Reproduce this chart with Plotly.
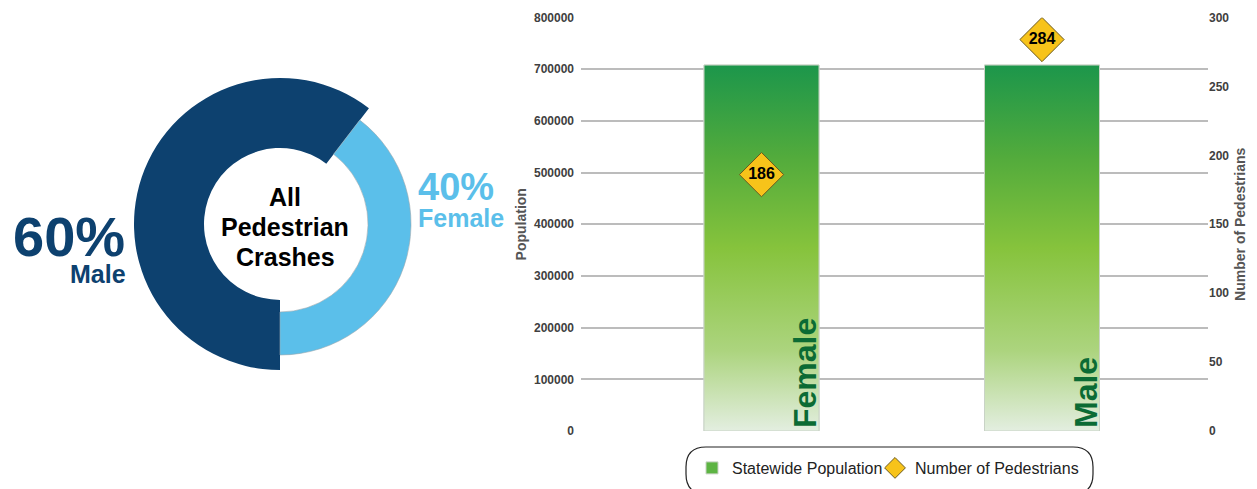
import plotly.graph_objects as go

W, H = 1257, 489
OFF = 8  # page offset of the figure inside the html body

# ---- data ----
categories = ["Female", "Male"]
population = [708000, 708000]          # Statewide Population
pedestrians = [186, 284]               # Number of Pedestrians
pct_labels = ["40%", "60%"]
center_lines = ["All", "Pedestrian", "Crashes"]
pop_ticks = [0, 100000, 200000, 300000, 400000, 500000, 600000, 700000, 800000]
ped_ticks = [0, 50, 100, 150, 200, 250, 300]

DARK = "#0d416f"
LIGHT = "#5bbfea"
FONT = "Arial, Liberation Sans, sans-serif"


def px(x):
    return (x - OFF) / W


def py(y):
    return 1 - (y - OFF) / H


fig = go.Figure()

# ---- donut (two rings with different radii) ----
cx, cy = 280, 224
R_big, R_small = 146, 131
fig.add_trace(go.Pie(
    values=[pedestrians[1], pedestrians[0]], labels=[categories[1], categories[0]],
    sort=False, direction="clockwise", rotation=180, hole=76 / 146,
    marker=dict(colors=[DARK, "rgba(0,0,0,0)"], line=dict(width=0)),
    textinfo="none", showlegend=False, hoverinfo="label+value+percent",
    domain=dict(x=[px(cx - R_big), px(cx + R_big)], y=[py(cy + R_big), py(cy - R_big)]),
))
fig.add_trace(go.Pie(
    values=[pedestrians[1], pedestrians[0]], labels=[categories[1], categories[0]],
    sort=False, direction="clockwise", rotation=180, hole=88 / 131,
    marker=dict(colors=["rgba(0,0,0,0)", LIGHT],
                line=dict(color=["rgba(0,0,0,0)", "#9aa7ae"], width=[0, 0.6])),
    textinfo="none", showlegend=False, hoverinfo="skip",
    domain=dict(x=[px(cx - R_small), px(cx + R_small)], y=[py(cy + R_small), py(cy - R_small)]),
))

# ---- population bars (solid base for legend) + vertical gradient overlay ----
bar_w = 0.41
positions = list(range(len(categories)))
fig.add_trace(go.Bar(
    x=positions, y=population, width=bar_w, name="Statewide Population",
    marker=dict(color="#5db443", line=dict(color="#c9d3c6", width=1)),
    xaxis="x", yaxis="y", hovertext=categories, legend="legend",
))
xs, ys = [], []
for i, v in zip(positions, population):
    xs += [i - bar_w / 2, i - bar_w / 2, i + bar_w / 2, i + bar_w / 2, i - bar_w / 2, None]
    ys += [0, v, v, 0, 0, None]
fig.add_trace(go.Scatter(
    x=xs, y=ys, fill="toself", mode="lines",
    line=dict(color="#c9d3c6", width=1),
    fillgradient=dict(type="vertical", colorscale=[
        [0, "#e3eee0"], [0.22, "#acd47e"], [0.5, "#86c33c"], [0.75, "#52ab3c"], [1, "#1c964b"]]),
    showlegend=False, hoverinfo="skip", xaxis="x", yaxis="y",
))

# ---- pedestrian diamonds ----
fig.add_trace(go.Scatter(
    x=positions, y=pedestrians, mode="markers",
    marker=dict(symbol="diamond", size=34, color="#f7c31a", line=dict(color="#6b5a20", width=1)),
    name="Number of Pedestrians", xaxis="x", yaxis="y2", legend="legend2",
))
fig.add_trace(go.Scatter(
    x=positions, y=pedestrians, mode="text",
    text=[str(v) for v in pedestrians], textposition="middle center",
    textfont=dict(family=FONT, size=16, color="#000000", weight="bold"),
    showlegend=False, hoverinfo="skip", xaxis="x", yaxis="y2",
))

annotations = []
# bar category labels
for i, c in zip(positions, categories):
    annotations.append(dict(
        x=i + 0.155, y=0, xref="x", yref="y", text=f"<b>{c}</b>", showarrow=False,
        textangle=-90, xanchor="center", yanchor="bottom", yshift=1,
        font=dict(family=FONT, size=32, color="#0b6b34"),
    ))
# donut center text
for txt, yy in zip(center_lines, [197, 227, 257]):
    annotations.append(dict(
        x=px(285), y=py(yy), xref="paper", yref="paper", text=f"<b>{txt}</b>", showarrow=False,
        xanchor="center", yanchor="middle", font=dict(family=FONT, size=25, color="#000000"),
    ))
# percentage labels
annotations += [
    dict(x=px(127), y=py(236), xref="paper", yref="paper", text=f"<b>{pct_labels[1]}</b>",
         showarrow=False, xanchor="right", yanchor="middle",
         font=dict(family=FONT, size=56, color=DARK)),
    dict(x=px(128), y=py(274), xref="paper", yref="paper", text=f"<b>{categories[1]}</b>",
         showarrow=False, xanchor="right", yanchor="middle",
         font=dict(family=FONT, size=25, color=DARK)),
    dict(x=px(416), y=py(187), xref="paper", yref="paper", text=f"<b>{pct_labels[0]}</b>",
         showarrow=False, xanchor="left", yanchor="middle",
         font=dict(family=FONT, size=38, color=LIGHT)),
    dict(x=px(416), y=py(218), xref="paper", yref="paper", text=f"<b>{categories[0]}</b>",
         showarrow=False, xanchor="left", yanchor="middle",
         font=dict(family=FONT, size=25, color=LIGHT)),
]

# rounded legend frame
x0, x1, y0, y1, r = 686, 1093, 447, 494, 20
rx, ry = r / W, r / H
X0, X1, Y0, Y1 = px(x0), px(x1), py(y0), py(y1)
path = (f"M {X0+rx},{Y0} L {X1-rx},{Y0} Q {X1},{Y0} {X1},{Y0-ry} L {X1},{Y1+ry} "
        f"Q {X1},{Y1} {X1-rx},{Y1} L {X0+rx},{Y1} Q {X0},{Y1} {X0},{Y1+ry} "
        f"L {X0},{Y0-ry} Q {X0},{Y0} {X0+rx},{Y0} Z")

legend_common = dict(orientation="h", yanchor="middle", xanchor="left", itemwidth=30,
                     bgcolor="rgba(0,0,0,0)", font=dict(family=FONT, size=16, color="#222222"))

fig.update_layout(
    width=W, height=H,
    margin=dict(l=0, r=0, t=0, b=0, autoexpand=False),
    paper_bgcolor="white", plot_bgcolor="white",
    font=dict(family=FONT),
    showlegend=True,
    xaxis=dict(domain=[px(581), px(1208)], range=[-0.6435, 1.5918], showticklabels=False,
               showgrid=False, zeroline=False, showline=False, ticks="", automargin=False),
    yaxis=dict(domain=[py(431), py(17.5)], range=[0, 800000], tickvals=pop_ticks,
               tickformat="d", showgrid=True, gridcolor="#bcbcbc", gridwidth=2,
               zeroline=False, showline=False, ticks="", ticklabelstandoff=6, automargin=False,
               tickfont=dict(family=FONT, size=12, color="#404040", weight="bold"),
               title=dict(text="<b>Population</b>", standoff=4,
                          font=dict(family=FONT, size=14, color="#555555"))),
    yaxis2=dict(overlaying="y", side="right", range=[0, 300], tickvals=ped_ticks,
                showgrid=False, zeroline=False, showline=False, ticks="", automargin=False,
                tickfont=dict(family=FONT, size=12, color="#404040", weight="bold"),
                title=dict(text="<b>Number of Pedestrians</b>", standoff=6,
                           font=dict(family=FONT, size=14, color="#555555"))),
    legend=dict(x=px(692), y=py(468), **legend_common),
    legend2=dict(x=px(875), y=py(468), **legend_common),
    annotations=annotations,
    shapes=[dict(type="path", path=path, xref="paper", yref="paper",
                 line=dict(color="#222222", width=1.2), fillcolor="rgba(0,0,0,0)", layer="above")],
)

fig.write_html("out.html")
